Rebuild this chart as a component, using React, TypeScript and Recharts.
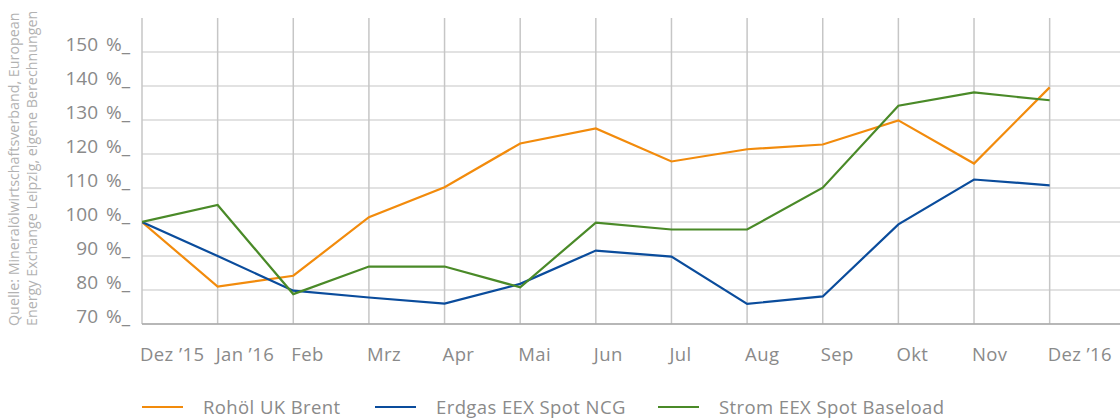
import React from 'react';
import { LineChart, Line, XAxis, YAxis, ReferenceLine } from 'recharts';

const months = ['Dez ’15', 'Jan ’16', 'Feb', 'Mrz', 'Apr', 'Mai', 'Jun', 'Jul', 'Aug', 'Sep', 'Okt', 'Nov', 'Dez ’16'];
const brent = [100, 81, 84.2, 101.4, 110.2, 123.1, 127.5, 117.8, 121.4, 122.8, 129.9, 117.2, 139.6];
const ncg = [100, 90, 79.8, 77.8, 76, 81.8, 91.6, 89.8, 75.9, 78.1, 99.3, 112.5, 110.8];
const baseload = [100, 105, 78.8, 86.9, 86.9, 80.8, 99.8, 97.8, 97.8, 110.1, 134.2, 138.1, 135.8];
const yTicks = [70, 80, 90, 100, 110, 120, 130, 140, 150];

const series = [
  { key: 'brent', name: 'Rohöl UK Brent', color: '#f28b0c' },
  { key: 'ncg', name: 'Erdgas EEX Spot NCG', color: '#0a4c9c' },
  { key: 'baseload', name: 'Strom EEX Spot Baseload', color: '#4a8a28' },
];

const data = months.map((m, i) => ({ i, brent: brent[i], ncg: ncg[i], baseload: baseload[i] }));
const xTicks = months.map((_, i) => i);

const font = '"Open Sans", sans-serif';
const labelColor = '#8a8a8a';

const YTick = (props: any) => {
  const { x, y, payload } = props;
  return (
    <text x={x} y={y - 1.5} textAnchor="end" fill={labelColor} fontSize={19} wordSpacing={3} fontFamily={font}>
      {payload.value} %_
    </text>
  );
};

const XTick = (props: any) => {
  const { x, y, payload } = props;
  return (
    <text x={x - 2} y={y + 37} textAnchor="start" fill={labelColor} fontSize={18.5} letterSpacing={0.4} fontFamily={font}>
      {months[payload.value]}
    </text>
  );
};

const legendLeft = [142, 375, 658];

export default function App() {
  return (
    <div style={{ position: 'absolute', left: 0, top: 0, width: 1120, height: 419, overflow: 'hidden', background: '#fff' }}>
      <LineChart width={1120} height={419} data={data} margin={{ top: 18, right: 0, left: 0, bottom: 65 }}>
        {yTicks.map(v => (
          <ReferenceLine key={'h' + v} y={v} stroke="#e2e2e2" strokeWidth={2} />
        ))}
        {xTicks.map(v => (
          <ReferenceLine key={'v' + v} x={v} stroke="#c6c6c6" strokeWidth={1.5} />
        ))}
        <XAxis
          dataKey="i"
          type="number"
          domain={[0, 12.93]}
          ticks={xTicks}
          tick={<XTick />}
          height={30}
          tickLine={false}
          tickSize={0}
          tickMargin={0}
          stroke="#a8a8a8"
          strokeWidth={1.5}
          allowDataOverflow
        />
        <YAxis
          type="number"
          domain={[70, 160]}
          ticks={yTicks}
          width={142}
          tick={<YTick />}
          tickLine={false}
          axisLine={false}
          tickSize={0}
          tickMargin={12}
        />
        {series.map(s => (
          <Line
            key={s.key}
            type="linear"
            dataKey={s.key}
            stroke={s.color}
            strokeWidth={2.2}
            dot={false}
            isAnimationActive={false}
          />
        ))}
      </LineChart>
      <svg width={60} height={340} style={{ position: 'absolute', left: 0, top: 0 }}>
        <text transform="translate(18.5,326) rotate(-90)" fill="#b2b2b2" fontSize={14.3} fontFamily={font}>
          Quelle: Mineralölwirtschaftsverband, European
        </text>
        <text transform="translate(37,326) rotate(-90)" fill="#b2b2b2" fontSize={14.3} fontFamily={font}>
          Energy Exchange Leipzig, eigene Berechnungen
        </text>
      </svg>
      {series.map((s, i) => (
        <div key={s.key} style={{ position: 'absolute', left: legendLeft[i], top: 395, display: 'flex', alignItems: 'center', whiteSpace: 'nowrap' }}>
          <div style={{ width: 41, height: 2, background: s.color, marginRight: 20 }} />
          <span style={{ fontFamily: font, fontSize: 18.5, letterSpacing: 0.4, color: labelColor, lineHeight: '24px' }}>{s.name}</span>
        </div>
      ))}
    </div>
  );
}
